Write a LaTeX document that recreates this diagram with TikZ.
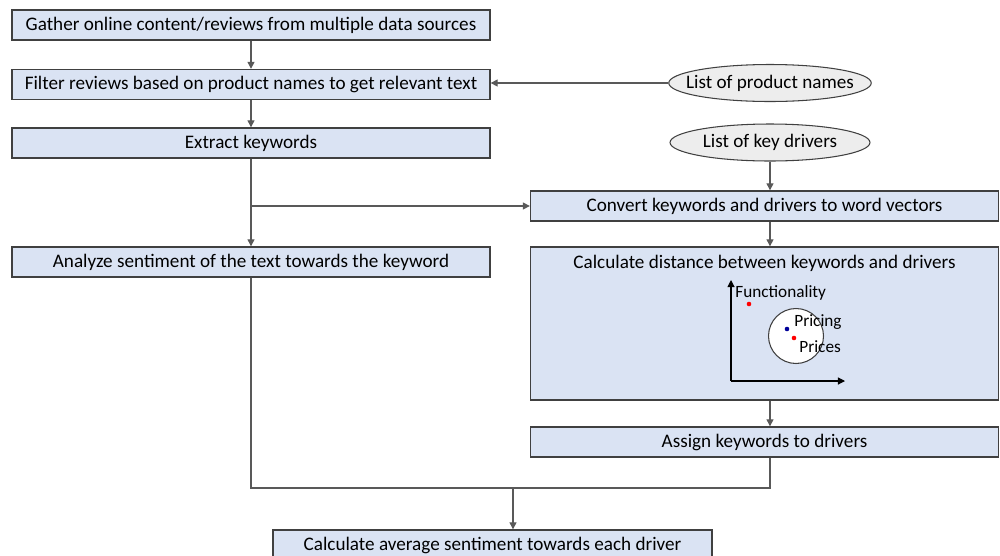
\documentclass[tikz,border=0pt]{standalone}
\usepackage{fontspec}
\setmainfont{Carlito}
\usetikzlibrary{arrows.meta,shapes.geometric}
\definecolor{boxfill}{HTML}{DAE3F3}
\definecolor{ovalfill}{HTML}{EDEDED}
\definecolor{edge}{HTML}{404040}
\definecolor{wire}{HTML}{595959}
\tikzset{
  procbox/.style={draw=edge,fill=boxfill,line width=.8pt,minimum width=9.56cm,
    minimum height=.6cm,inner sep=0pt,font=\fontsize{10.9}{12}\selectfont},
  widebox/.style={procbox,minimum width=9.36cm},
  oval/.style={draw=edge,fill=ovalfill,ellipse,line width=.6pt,minimum width=4cm,
    minimum height=.74cm,inner xsep=-7pt,inner ysep=0pt,font=\fontsize{10.9}{12}\selectfont},
  arr/.style={draw=wire,line width=.7pt,-{Triangle[length=4pt,width=4pt]}},
  wire/.style={draw=wire,line width=.7pt},
  dot/.style={circle,inner sep=0pt,minimum size=2.6pt},
  tag/.style={inner sep=0pt,anchor=west,font=\fontsize{9.8}{11}\selectfont}
}
\begin{document}
\begin{tikzpicture}[x=0.02cm,y=-0.02cm]
  \useasboundingbox (0,0) rectangle (1000,555);
  % left column
  \node[procbox] (gather) at (251,25) {Gather online content/reviews from multiple data sources};
  \node[procbox] (filter) at (251,84.5) {Filter reviews based on product names to get relevant text};
  \node[procbox] (extract) at (251,143) {Extract keywords};
  \node[procbox] (analyze) at (251,262) {Analyze sentiment of the text towards the keyword};
  % right column
  \node[oval] (prodnames) at (770,83) {List of product names};
  \node[oval] (drivers) at (770,142.5) {List of key drivers};
  \node[widebox] (convert) at (764.5,206) {Convert keywords and drivers to word vectors};
  \node[widebox,minimum height=3.06cm] (dist) at (764.5,323.5) {};
  \node[inner sep=0pt,font=\fontsize{10.9}{12}\selectfont] (distT) at (764.5,263)
    {Calculate distance between keywords and drivers};
  \node[widebox] (assign) at (764.5,442) {Assign keywords to drivers};
  \node[procbox,minimum width=8.78cm] (average) at (492.5,545) {Calculate average sentiment towards each driver};
  % word vector sketch
  \coordinate (orig) at (731,381);
  \node[circle,draw=edge,fill=white,line width=.6pt,minimum size=1.1cm] (clus) at (796,336) {};
  \draw[arr,draw=black,line width=.6pt] (orig) -- (731,280);
  \draw[arr,draw=black,line width=.6pt] (orig) -- (845,381);
  \node[dot,fill=red] (fdot) at (749,304) {};
  \node[dot,fill=blue!60!black] (pdot) at (787,329) {};
  \node[dot,fill=red] (sdot) at (794,338) {};
  \node[tag] (func) at (735,293) {Functionality};
  \node[tag] (pricing) at (794,322) {Pricing};
  \node[tag] (prices) at (799,347) {Prices};
  % connectors
  \draw[arr] (gather) -- (filter);
  \draw[arr] (prodnames.west) -- (prodnames.west -| filter.east);
  \draw[arr] (filter) -- (extract);
  \draw[arr] (extract) -- (analyze);
  \coordinate (split) at (251,206);
  \draw[arr] (split) -- (convert);
  \draw[arr] (drivers.south) -- (drivers.south |- convert.north);
  \draw[arr] (drivers.south |- convert.south) -- (drivers.south |- dist.north);
  \draw[arr] (drivers.south |- dist.south) -- (drivers.south |- assign.north);
  \coordinate (join) at (513,488);
  \draw[wire] (analyze.south) |- (drivers.south |- join) -- (drivers.south |- assign.south);
  \draw[arr] (join) -- (join |- average.north);
\end{tikzpicture}
\end{document}
